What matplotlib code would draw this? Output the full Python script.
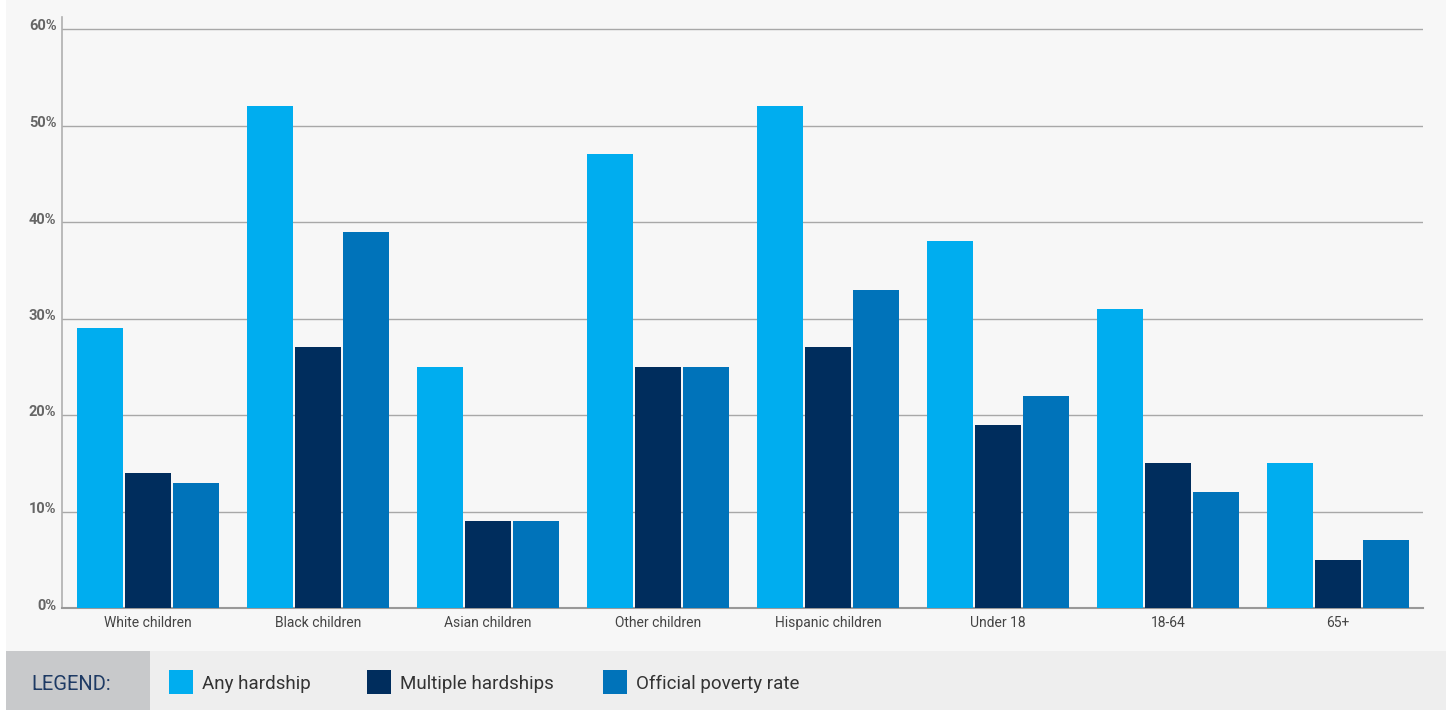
import matplotlib.pyplot as plt
import matplotlib.transforms as mtransforms
from matplotlib.patches import Rectangle
import numpy as np

plt.rcParams["font.family"] = ["Roboto", "DejaVu Sans"]

# data
categories = ["White children", "Black children", "Asian children", "Other children",
              "Hispanic children", "Under 18", "18-64", "65+"]
any_hardship = [29, 52, 25, 47, 52, 38, 31, 15]
multiple_hardships = [14, 27, 9, 25, 27, 19, 15, 5]
official_poverty = [13, 39, 9, 25, 33, 22, 12, 7]
series_names = ["Any hardship", "Multiple hardships", "Official poverty rate"]
y_ticks = [0, 10, 20, 30, 40, 50, 60]

colors = ["#00adef", "#002d5d", "#0073ba"]

W, H = 1446, 710
fig = plt.figure(figsize=(W / 100, H / 100), dpi=100, facecolor="white")

# panel backgrounds (behind the axes)
for (x0, y0, w, h, fc) in [(6, 59, W - 6, H - 59, "#f7f7f7"),
                           (6, 0, W - 6, 59, "#eeeeee"),
                           (6, 0, 144, 59, "#c8c9cb")]:
    fig.patches.append(Rectangle((x0 / W, y0 / H), w / W, h / H, transform=fig.transFigure,
                                 facecolor=fc, edgecolor="none", zorder=-2))

ax = fig.add_axes([62 / W, 1 - 608 / H, (1423 - 62) / W, (608 - 17) / H])
ax.set_facecolor("none")
ax.set_zorder(1)

x = np.arange(len(categories))
width = 46 / 170
offset = 48 / 170
for i, (vals, c) in enumerate(zip([any_hardship, multiple_hardships, official_poverty], colors)):
    ax.bar(x + (i - 1) * offset, vals, width=width, color=c, zorder=3, label=series_names[i])

ax.set_xlim(-0.506, 7.5)
ax.set_ylim(0, 60 * (608 - 17) / (608 - 29))
ax.set_yticks(y_ticks)
ax.set_yticklabels([f"{t}%" for t in y_ticks], fontsize=10.5, fontweight="bold", color="#666666")
ax.set_xticks(x)
ax.set_xticklabels(categories, fontsize=10, color="#444444")
ax.tick_params(axis="both", length=0)
ax.tick_params(axis="y", pad=4)
ax.tick_params(axis="x", pad=6)

# y labels sit slightly above their gridline
shift = mtransforms.ScaledTranslation(0, 4 / 100, fig.dpi_scale_trans)
for lab in ax.get_yticklabels():
    lab.set_transform(lab.get_transform() + shift)

ax.grid(axis="y", color="#a8a8a8", linewidth=1, zorder=1)
ax.set_axisbelow(True)
for s in ["top", "right"]:
    ax.spines[s].set_visible(False)
ax.spines["left"].set_color("#b0b0b0")
ax.spines["left"].set_linewidth(1.2)
ax.spines["bottom"].set_color("#999999")
ax.spines["bottom"].set_linewidth(1.5)

# legend strip
fig.text(31 / W, 26 / H, "LEGEND:", fontsize=14.5, color="#1e3a64", va="center", ha="left")
swatch_x = [169, 367, 603]
for name, c, sx in zip(series_names, colors, swatch_x):
    fig.patches.append(Rectangle((sx / W, 16 / H), 24 / W, 24 / H,
                                 transform=fig.transFigure, facecolor=c, edgecolor="none", zorder=2))
    fig.text((sx + 33) / W, 26 / H, name, fontsize=13.5, color="#333333", va="center", ha="left")

fig.savefig("out.png", dpi=100, facecolor=fig.get_facecolor())
